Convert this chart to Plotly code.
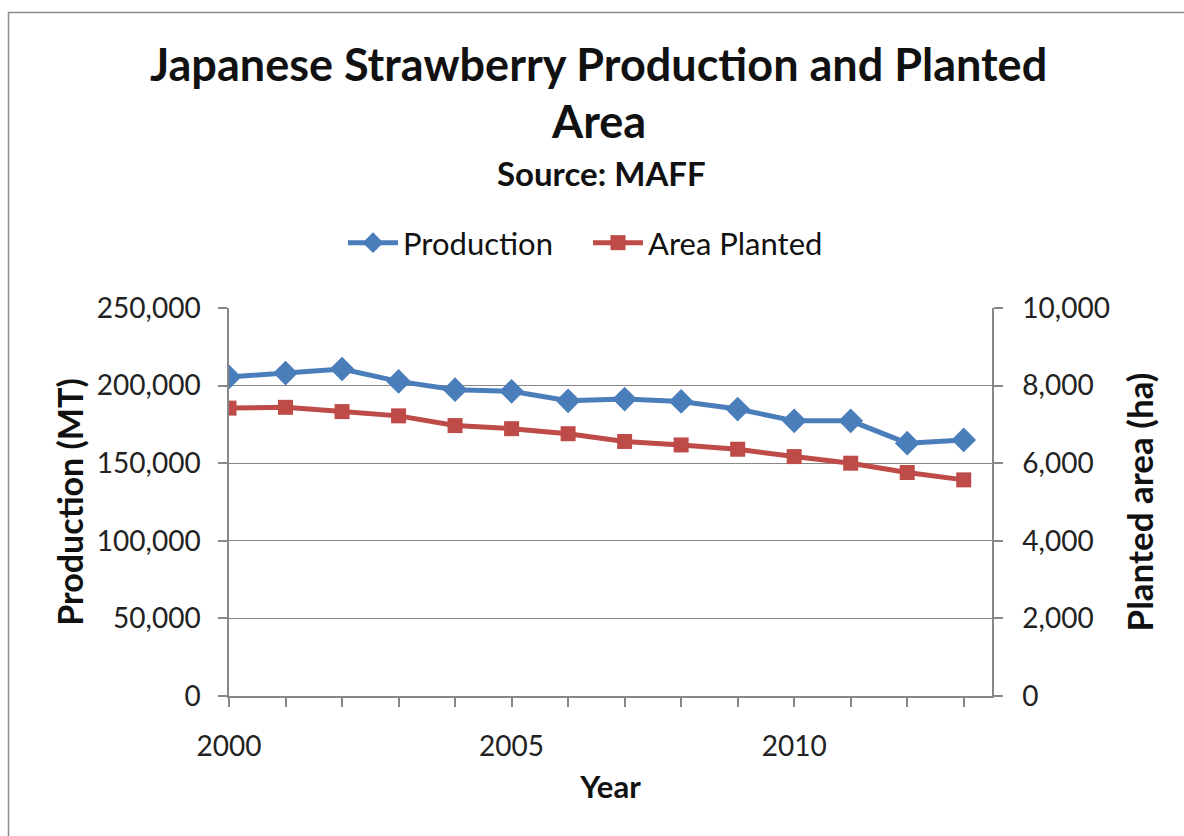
import plotly.graph_objects as go

# Japanese strawberry statistics (MAFF)
years = list(range(2000, 2014))
production_mt = [205600, 208100, 210700, 202700, 197400, 196300, 190200,
                 191300, 189800, 184900, 177300, 177300, 162900, 165000]
area_planted_ha = [7420, 7440, 7330, 7220, 6970, 6890, 6760,
                   6560, 6470, 6360, 6170, 6000, 5760, 5570]
x_tick_labels = ["2000", "", "", "", "", "2005", "", "", "", "", "2010", "", "", ""]

W, H = 1184, 836
L, R, T, B = 229, 192, 308, 140
pw, ph = W - L - R, H - T - B

FONT = "Lato, 'Open Sans', sans-serif"
GRID = "#878787"
BLUE = "#4A7EBB"
RED = "#BE4B48"


def px_x(px):
    return (px - L) / pw


def px_y(py):
    return (H - B - py) / ph


fig = go.Figure()
fig.add_trace(go.Scatter(
    x=years, y=production_mt, name="Production", mode="lines+markers",
    line=dict(color=BLUE, width=5),
    marker=dict(symbol="diamond", size=19, color=BLUE),
))
fig.add_trace(go.Scatter(
    x=years, y=area_planted_ha, name="Area Planted", mode="lines+markers",
    yaxis="y2",
    line=dict(color=RED, width=5),
    marker=dict(symbol="square", size=15, color=RED),
))

fig.update_layout(
    width=W, height=H,
    margin=dict(l=L, r=R, t=T, b=B),
    paper_bgcolor="white", plot_bgcolor="white",
    font=dict(family=FONT, color="#222222"),
    showlegend=True,
    legend=dict(
        orientation="h", x=px_x(343), xanchor="left",
        y=px_y(243), yanchor="middle",
        font=dict(size=31, family=FONT, color="#111111"),
        itemwidth=50, traceorder="normal",
        entrywidth=180, entrywidthmode="pixels",
    ),
    xaxis=dict(
        range=[2000, 2013.5], tickmode="array", tickvals=years,
        ticktext=x_tick_labels, ticks="outside", ticklen=9,
        tickcolor=GRID, tickwidth=1.5, ticklabelstandoff=16,
        showline=True, linecolor=GRID, linewidth=1.5,
        showgrid=False, zeroline=False,
        tickfont=dict(size=28, family=FONT, color="#222222"),
        title=dict(text="<b>Year</b>", font=dict(size=31, family=FONT, color="#111111"),
                   standoff=15),
    ),
    yaxis=dict(
        range=[0, 250000], dtick=50000, tickformat=",",
        ticks="outside", ticklen=9, tickcolor=GRID, tickwidth=1.5,
        ticklabelstandoff=12,
        showline=True, linecolor=GRID, linewidth=1.5,
        showgrid=True, gridcolor=GRID, gridwidth=1.2, zeroline=False,
        tickfont=dict(size=28, family=FONT, color="#222222"),
        title=dict(text="<b>Production (MT)</b>",
                   font=dict(size=34, family=FONT, color="#111111"), standoff=3),
    ),
    yaxis2=dict(
        range=[0, 10000], dtick=2000, tickformat=",",
        overlaying="y", side="right", anchor="x",
        ticks="outside", ticklen=9, tickcolor=GRID, tickwidth=1.5,
        ticklabelstandoff=14,
        showline=True, linecolor=GRID, linewidth=1.5,
        showgrid=False, zeroline=False,
        tickfont=dict(size=28, family=FONT, color="#222222"),
        title=dict(text="<b>Planted area (ha)</b>",
                   font=dict(size=35, family=FONT, color="#111111"), standoff=20),
    ),
    annotations=[
        dict(text="<b>Japanese Strawberry Production and Planted</b>",
             x=px_x(598), y=px_y(64), xref="paper", yref="paper",
             xanchor="center", yanchor="middle", showarrow=False,
             font=dict(size=45, family=FONT, color="#111111")),
        dict(text="<b>Area</b>",
             x=px_x(598), y=px_y(121), xref="paper", yref="paper",
             xanchor="center", yanchor="middle", showarrow=False,
             font=dict(size=45, family=FONT, color="#111111")),
        dict(text="<b>Source: MAFF</b>",
             x=px_x(601), y=px_y(173), xref="paper", yref="paper",
             xanchor="center", yanchor="middle", showarrow=False,
             font=dict(size=33, family=FONT, color="#111111")),
    ],
    shapes=[
        dict(type="rect", xref="paper", yref="paper",
             x0=px_x(8.5), x1=px_x(1300), y0=px_y(12.5), y1=px_y(900),
             line=dict(color="#8C8C8C", width=1.5), fillcolor="rgba(0,0,0,0)",
             layer="below"),
    ],
)

fig.write_html("out.html")
